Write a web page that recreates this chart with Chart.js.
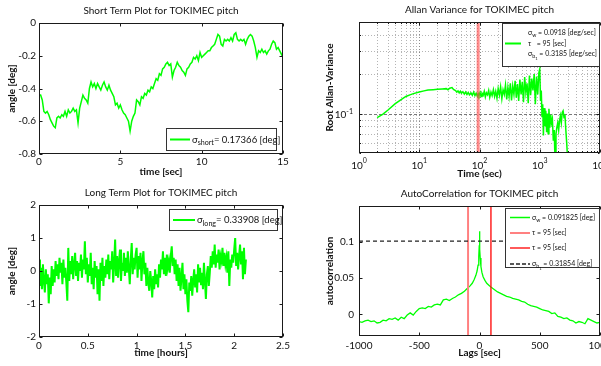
<!DOCTYPE html>
<html>
<head>
<meta charset="utf-8">
<script src="https://cdn.jsdelivr.net/npm/chart.js@4.4.1/dist/chart.umd.min.js"></script>
<style>
  html, body { margin: 0; padding: 0; background: #fff; width: 601px; height: 366px; overflow: hidden; }
  canvas { position: absolute; }
</style>
</head>
<body>
<canvas id="c1" width="300" height="180" style="left:0;top:0"></canvas>
<canvas id="c2" width="301" height="180" style="left:300px;top:0"></canvas>
<canvas id="c3" width="300" height="186" style="left:0;top:180px"></canvas>
<canvas id="c4" width="301" height="186" style="left:300px;top:180px"></canvas>
<script>
// --- short term (15 s) ---
const shortTime = [
  0.0,0.1,0.2,0.3,0.4,0.5,0.6,0.7,0.8,0.9,
  1.0,1.1,1.2,1.3,1.4,1.5,1.6,1.7,1.8,1.9,
  2.0,2.1,2.2,2.3,2.4,2.5,2.6,2.7,2.8,2.9,
  3.0,3.1,3.2,3.3,3.4,3.5,3.6,3.7,3.8,3.9,
  4.0,4.1,4.2,4.3,4.4,4.5,4.6,4.7,4.8,4.9,
  5.0,5.1,5.2,5.3,5.4,5.5,5.6,5.7,5.8,5.9,
  6.0,6.1,6.2,6.3,6.4,6.5,6.6,6.7,6.8,6.9,
  7.0,7.1,7.2,7.3,7.4,7.5,7.6,7.7,7.8,7.9,
  8.0,8.1,8.2,8.3,8.4,8.5,8.6,8.7,8.8,8.9,
  9.0,9.1,9.2,9.3,9.4,9.5,9.6,9.7,9.8,9.9,
  10.0,10.1,10.2,10.3,10.4,10.5,10.6,10.7,10.8,10.9,
  11.0,11.1,11.2,11.3,11.4,11.5,11.6,11.7,11.8,11.9,
  12.0,12.1,12.2,12.3,12.4,12.5,12.6,12.7,12.8,12.9,
  13.0,13.1,13.2,13.3,13.4,13.5,13.6,13.7,13.8,13.9,
  14.0,14.1,14.2,14.3,14.4,14.5,14.6,14.7,14.8,14.9,
  15.0
];
const shortAngle = [
  -0.44,-0.44,-0.47,-0.54,-0.55,-0.54,-0.56,-0.59,-0.61,-0.63,
  -0.64,-0.58,-0.57,-0.58,-0.56,-0.57,-0.54,-0.57,-0.53,-0.55,
  -0.54,-0.52,-0.54,-0.53,-0.61,-0.52,-0.48,-0.44,-0.46,-0.47,
  -0.49,-0.40,-0.36,-0.39,-0.37,-0.40,-0.37,-0.39,-0.41,-0.38,
  -0.36,-0.39,-0.41,-0.38,-0.41,-0.43,-0.45,-0.50,-0.49,-0.52,
  -0.50,-0.53,-0.55,-0.56,-0.58,-0.60,-0.66,-0.60,-0.57,-0.55,
  -0.47,-0.48,-0.50,-0.45,-0.46,-0.43,-0.44,-0.41,-0.42,-0.39,
  -0.40,-0.37,-0.34,-0.35,-0.31,-0.32,-0.28,-0.27,-0.25,-0.24,
  -0.26,-0.25,-0.33,-0.29,-0.27,-0.24,-0.26,-0.27,-0.29,-0.30,
  -0.32,-0.28,-0.27,-0.25,-0.24,-0.21,-0.22,-0.20,-0.23,-0.18,
  -0.21,-0.20,-0.19,-0.18,-0.17,-0.17,-0.15,-0.14,-0.13,-0.10,
  -0.07,-0.08,-0.13,-0.14,-0.10,-0.11,-0.10,-0.11,-0.09,-0.11,
  -0.07,-0.06,-0.10,-0.11,-0.10,-0.11,-0.10,-0.13,-0.10,-0.08,
  -0.07,-0.08,-0.11,-0.15,-0.21,-0.17,-0.18,-0.16,-0.18,-0.17,
  -0.19,-0.17,-0.16,-0.13,-0.11,-0.12,-0.16,-0.15,-0.17,-0.19,
  -0.21
];
const shortXTicks = [0, 5, 10, 15];
const shortXLabels = ['0', '5', '10', '15'];
const shortYTicks = [-0.8, -0.6, -0.4, -0.2, 0];
const shortYLabels = ['-0.8', '-0.6', '-0.4', '-0.2', '0'];

// --- long term (hours) ---
const longTime = [
  0.00,0.01,0.02,0.03,0.04,0.05,0.06,0.07,0.08,0.09,
  0.10,0.11,0.12,0.13,0.14,0.15,0.16,0.17,0.18,0.19,
  0.20,0.21,0.22,0.23,0.24,0.25,0.26,0.27,0.28,0.29,
  0.30,0.31,0.32,0.33,0.34,0.35,0.36,0.37,0.38,0.39,
  0.40,0.41,0.42,0.43,0.44,0.45,0.46,0.47,0.48,0.49,
  0.50,0.51,0.52,0.53,0.54,0.55,0.56,0.57,0.58,0.59,
  0.60,0.61,0.62,0.63,0.64,0.65,0.66,0.67,0.68,0.69,
  0.70,0.71,0.72,0.73,0.74,0.75,0.76,0.77,0.78,0.79,
  0.80,0.81,0.82,0.83,0.84,0.85,0.86,0.87,0.88,0.89,
  0.90,0.91,0.92,0.93,0.94,0.95,0.96,0.97,0.98,0.99,
  1.00,1.01,1.02,1.03,1.04,1.05,1.06,1.07,1.08,1.09,
  1.10,1.11,1.12,1.13,1.14,1.15,1.16,1.17,1.18,1.19,
  1.20,1.21,1.22,1.23,1.24,1.25,1.26,1.27,1.28,1.29,
  1.30,1.31,1.32,1.33,1.34,1.35,1.36,1.37,1.38,1.39,
  1.40,1.41,1.42,1.43,1.44,1.45,1.46,1.47,1.48,1.49,
  1.50,1.51,1.52,1.53,1.54,1.55,1.56,1.57,1.58,1.59,
  1.60,1.61,1.62,1.63,1.64,1.65,1.66,1.67,1.68,1.69,
  1.70,1.71,1.72,1.73,1.74,1.75,1.76,1.77,1.78,1.79,
  1.80,1.81,1.82,1.83,1.84,1.85,1.86,1.87,1.88,1.89,
  1.90,1.91,1.92,1.93,1.94,1.95,1.96,1.97,1.98,1.99,
  2.00,2.01,2.02,2.03,2.04,2.05,2.06,2.07,2.08,2.09,
  2.10,2.11,2.12
];
const longAngle = [
  0.35,-0.45,0.10,-0.55,0.20,-0.30,-0.65,0.05,-0.40,-0.10,
  -0.98,-0.20,-0.70,0.15,-0.45,0.05,-0.35,0.30,-0.15,0.20,
  -0.25,0.40,-0.05,0.25,-0.40,0.35,-0.20,0.10,-0.35,-0.90,
  0.70,-0.30,0.30,-0.10,0.45,-0.25,0.20,0.55,-0.15,0.30,
  -0.30,0.25,0.00,0.50,-0.20,0.35,0.05,0.90,-0.10,0.40,
  -0.35,0.20,-0.15,0.55,-0.40,0.10,-0.55,0.30,-0.20,0.15,
  -0.70,0.05,-0.90,0.25,-0.30,0.40,-0.45,0.15,-0.20,0.35,
  -0.10,0.50,-0.25,0.30,0.05,0.60,-0.35,0.20,0.95,-0.15,
  0.45,-0.20,0.30,0.65,-0.30,0.25,0.00,0.55,-0.15,0.40,
  -0.05,0.60,0.10,-0.40,0.35,0.85,-0.10,0.40,0.05,0.50,
  0.70,-0.20,0.45,0.05,0.55,-0.30,0.30,0.60,-0.10,0.25,
  -0.45,0.10,-0.35,-0.60,0.00,-0.30,-0.80,-0.15,-0.55,0.05,
  -0.40,-0.10,-0.50,0.20,-0.20,0.35,0.05,0.60,-0.10,0.40,
  -0.15,0.50,0.10,0.30,-0.05,0.45,0.75,0.15,0.40,-0.10,
  0.35,-0.30,0.20,-0.45,0.10,-0.60,-0.20,0.25,-0.55,-0.10,
  -0.70,-0.25,-0.90,-1.25,-0.35,-0.60,-0.15,-0.75,-0.30,0.05,
  -0.50,-0.10,-0.65,0.20,-0.35,0.10,-0.40,-0.05,-0.55,0.25,
  -0.30,-0.85,-0.10,0.15,-0.45,-0.05,0.45,0.10,0.60,0.20,
  0.80,0.10,0.50,0.25,0.65,0.05,0.45,0.30,0.70,0.15,
  0.55,0.20,0.40,-0.05,0.60,-0.45,0.35,0.10,0.50,0.25,
  0.65,1.00,0.15,0.55,0.05,0.45,0.80,0.20,0.60,-0.25,
  0.70,-0.10,0.35
];
const longXTicks = [0, 0.5, 1, 1.5, 2, 2.5];
const longXLabels = ['0', '0.5', '1', '1.5', '2', '2.5'];
const longYTicks = [-2, -1, 0, 1, 2];
const longYLabels = ['-2', '-1', '0', '1', '2'];

// --- Allan variance ---
const allanTau = [
  2,2.5,3,4,5,6,7,8,10,12,14,17,20,24,28,30,32,35,37,
  40,42,44,46,48,50,53,56,59,62,
  65,68,72,76,80,84,88,92,95,98,
  102,106,110,115,120,125,130,136,142,148,
  155,162,170,178,186,195,204,214,224,235,
  246,258,270,283,296,310,325,340,356,373,
  390,408,427,447,468,490,513,537,562,588,
  615,644,674,705,738,772,808,845,884,925,
  968,1000,1030,1060,1090,1120,1150,1180,1220,1260,
  1300,1340,1380,1420,1470,1520,1570,1620,1680,1740,
  1800,1860,1920,1990,2060,2130,2200,2280,2360,2440,
  2530,2620,2710,2800,2900,3000
];
const allanSigma = [
  0.093,0.099,0.106,0.119,0.128,0.135,0.139,0.142,0.146,0.149,0.151,0.152,0.153,0.154,0.155,0.152,0.156,0.158,0.153,
  0.150,0.146,0.149,0.144,0.148,0.143,0.147,0.141,0.146,0.140,
  0.145,0.139,0.144,0.138,0.146,0.137,0.143,0.136,0.142,0.137,
  0.145,0.135,0.143,0.138,0.148,0.134,0.144,0.139,0.150,0.133,
  0.146,0.137,0.152,0.135,0.148,0.131,0.155,0.138,0.160,0.130,
  0.152,0.140,0.165,0.128,0.158,0.135,0.170,0.126,0.162,0.140,
  0.178,0.132,0.168,0.125,0.182,0.140,0.175,0.122,0.190,0.145,
  0.170,0.120,0.195,0.138,0.185,0.150,0.200,0.118,0.192,0.140,
  0.205,0.218,0.125,0.150,0.095,0.118,0.068,0.110,0.080,0.105,
  0.072,0.100,0.070,0.109,0.078,0.098,0.085,0.091,0.062,0.075,
  0.040,0.070,0.078,0.085,0.075,0.088,0.096,0.085,0.102,0.105,
  0.093,0.098,0.075,0.060,0.045,0.040
];
const allanTauLineX = [95, 95];
const allanTauLineY = [0.05, 0.5];
const allanXTicks = [1,2,3,4,5,6,7,8,9,10,20,30,40,50,60,70,80,90,100,200,300,400,500,600,700,800,900,1000,2000,3000,4000,5000,6000,7000,8000,9000,10000];
const allanXMajor = [1, 10, 100, 1000, 10000];
const allanXExp = ['0', '1', '2', '3', '4'];
const allanYTicks = [0.05,0.06,0.07,0.08,0.09,0.1,0.2,0.3,0.4,0.5];
const allanYMajor = [0.1];
const allanYExp = ['-1'];

// --- autocorrelation ---
const acorrLag = [
  -1000,-975,-950,-925,-900,-875,-850,-825,-800,-775,
  -750,-725,-700,-675,-650,-625,-600,-575,-550,-525,
  -500,-475,-450,-425,-400,-375,-350,-325,-300,-275,
  -250,-225,-200,-175,-150,-125,-100,-80,-60,-45,
  -30,-20,-12,-6,-3,0,3,6,12,20,
  30,45,60,80,100,125,150,175,200,225,
  250,275,300,325,350,375,400,425,450,475,
  500,525,550,575,600,625,650,675,700,725,
  750,775,800,825,850,875,900,925,950,975,
  1000
];
const acorrValue = [
  -0.010,-0.011,-0.009,-0.008,-0.010,-0.009,-0.012,-0.011,-0.008,-0.009,
  -0.006,-0.007,-0.005,-0.008,-0.004,-0.006,-0.001,0.002,-0.001,0.004,
  0.008,0.009,0.008,0.011,0.010,0.013,0.014,0.013,0.020,0.021,
  0.019,0.022,0.024,0.027,0.029,0.032,0.036,0.039,0.043,0.048,
  0.054,0.060,0.068,0.080,0.092,0.115,0.090,0.078,0.066,0.058,
  0.052,0.047,0.043,0.040,0.037,0.034,0.031,0.029,0.027,0.025,
  0.024,0.022,0.021,0.020,0.018,0.017,0.014,0.012,0.011,0.010,
  0.008,0.006,0.005,0.004,0.001,0.002,-0.003,-0.004,-0.006,-0.005,
  -0.008,-0.009,-0.012,-0.010,-0.011,-0.013,-0.006,-0.008,-0.010,-0.012,
  -0.011
];
const acorrTauLeftX = [-95, -95];
const acorrTauRightX = [95, 95];
const acorrTauY = [-0.03, 0.15];
const acorrBiasX = [-1000, 1000];
const acorrBiasY = [0.1015, 0.1015];
const acorrXTicks = [-1000, -500, 0, 500, 1000];
const acorrXLabels = ['-1000', '-500', '0', '500', '1000'];
const acorrYTicks = [0, 0.05, 0.1];
const acorrYLabels = ['0', '0.05', '0.1'];

const GREEN = '#00ff00';
const FONT = 'Lato, "DejaVu Sans", sans-serif';
Chart.defaults.font.family = FONT;
Chart.defaults.font.size = 10;
Chart.defaults.color = '#111';

const pts = (xs, ys) => xs.map((v, i) => ({ x: v, y: ys[i] }));

// text with sub / sub-sub scripts: parts = [[text, level], ...]
function drawRich(ctx, parts, x, y, size) {
  let cx = x;
  parts.forEach(([t, lvl]) => {
    const s = lvl === 0 ? size : lvl === 1 ? size * 0.75 : size * 0.6;
    const dy = lvl === 0 ? 0 : lvl === 1 ? size * 0.35 : size * 0.65;
    ctx.font = s + 'px ' + FONT;
    ctx.fillText(t, cx, y + dy);
    cx += ctx.measureText(t).width;
  });
}

// per-canvas extras: title, legend, log grid
const looks = {
  c1: {
    title: 'Short Term Plot for TOKIMEC pitch',
    legend: { box: [166, 128, 111, 23], size: 9.5, rows: [
      { y: 139.5, line: [170, 190, GREEN, 2, []], x: 192, parts: [['σ', 0], ['short', 1], ['= 0.17366 [deg]', 0]] }
    ] }
  },
  c2: {
    title: 'Allan Variance for TOKIMEC pitch',
    grid: true, xMajor: allanXMajor, yMajor: allanYMajor,
    xExp: allanXExp, yExp: allanYExp,
    legend: { box: [202, 23, 98, 44], size: 7, rows: [
      { y: 33, x: 228, parts: [['σ', 0], ['w', 1], [' = 0.0918 [deg/sec]', 0]] },
      { y: 43.5, line: [205, 221, GREEN, 2, []], x: 228, parts: [['τ', 0], ['   = 95 [sec]', 0]] },
      { y: 54, x: 228, parts: [['σ', 0], ['b', 1], ['1', 2], [' = 0.3185 [deg/sec]', 0]] }
    ] }
  },
  c3: {
    title: 'Long Term Plot for TOKIMEC pitch',
    legend: { box: [169, 29, 109, 22], size: 9.5, rows: [
      { y: 40, line: [173, 195, GREEN, 2, []], x: 197, parts: [['σ', 0], ['long', 1], ['= 0.33908 [deg]', 0]] }
    ] }
  },
  c4: {
    title: 'AutoCorrelation for TOKIMEC pitch',
    legend: { box: [205, 28, 95, 60], size: 7, rows: [
      { y: 37.5, line: [210, 230, GREEN, 1.5, []], x: 232, parts: [['σ', 0], ['w', 1], [' = 0.091825 [deg]', 0]] },
      { y: 53, line: [210, 230, '#ff8080', 2, []], x: 232, parts: [['τ', 0], [' = 95 [sec]', 0]] },
      { y: 68, line: [210, 230, '#ff0000', 1.3, []], x: 232, parts: [['τ', 0], [' = 95 [sec]', 0]] },
      { y: 84, line: [210, 230, '#222', 1.3, [4, 2]], x: 232, parts: [['σ', 0], ['b', 1], ['1', 2], [' = 0.31854 [deg]', 0]] }
    ] }
  }
};

const matlabLook = {
  id: 'matlabLook',
  beforeDatasetsDraw(chart) {
    const o = looks[chart.canvas.id];
    if (!o || !o.grid) return;
    const { ctx, chartArea: a, scales: { x, y } } = chart;
    ctx.save();
    ctx.lineWidth = 1;
    x.ticks.forEach(t => {
      if (t.value <= x.min || t.value >= x.max) return;
      const px = Math.round(x.getPixelForValue(t.value)) + 0.5;
      ctx.strokeStyle = o.xMajor.includes(t.value) ? '#8a8a8a' : '#b4b4b4';
      ctx.setLineDash([1, 2]);
      ctx.beginPath(); ctx.moveTo(px, a.top); ctx.lineTo(px, a.bottom); ctx.stroke();
    });
    y.ticks.forEach(t => {
      if (t.value <= y.min || t.value >= y.max) return;
      const py = Math.round(y.getPixelForValue(t.value)) + 0.5;
      const major = o.yMajor.includes(t.value);
      ctx.strokeStyle = major ? '#777' : '#b4b4b4';
      ctx.setLineDash(major ? [3, 2] : [1, 2]);
      ctx.beginPath(); ctx.moveTo(a.left, py); ctx.lineTo(a.right, py); ctx.stroke();
    });
    ctx.restore();
  },
  afterDatasetsDraw(chart) {
    const o = looks[chart.canvas.id];
    const { ctx, chartArea: a, scales: { x, y } } = chart;
    const L = Math.round(a.left) + 0.5, R = Math.round(a.right) - 0.5;
    const T = Math.round(a.top) + 0.5, B = Math.round(a.bottom) - 0.5;
    ctx.save();
    ctx.setLineDash([]);
    ctx.strokeStyle = '#1a1a1a';
    ctx.lineWidth = 1;
    ctx.strokeRect(L, T, R - L, B - T);
    ctx.beginPath();
    x.ticks.forEach(t => {
      const len = o.xMajor && !o.xMajor.includes(t.value) ? 1.5 : 3;
      const px = Math.round(x.getPixelForValue(t.value)) + 0.5;
      ctx.moveTo(px, B); ctx.lineTo(px, B - len);
      ctx.moveTo(px, T); ctx.lineTo(px, T + len);
    });
    y.ticks.forEach(t => {
      const len = o.yMajor && !o.yMajor.includes(t.value) ? 1.5 : 3;
      const py = Math.round(y.getPixelForValue(t.value)) + 0.5;
      ctx.moveTo(L, py); ctx.lineTo(L + len, py);
      ctx.moveTo(R, py); ctx.lineTo(R - len, py);
    });
    ctx.stroke();

    ctx.fillStyle = '#111';
    ctx.textAlign = 'left';
    ctx.textBaseline = 'alphabetic';
    // log tick labels 10^n
    if (o.xExp) {
      o.xMajor.forEach((v, i) => {
        const px = x.getPixelForValue(v);
        ctx.font = '10px ' + FONT; const w1 = ctx.measureText('10').width;
        ctx.font = '7px ' + FONT; const w2 = ctx.measureText(o.xExp[i]).width;
        const sx = px - (w1 + w2) / 2;
        ctx.font = '10px ' + FONT; ctx.fillText('10', sx, B + 16);
        ctx.font = '7px ' + FONT; ctx.fillText(o.xExp[i], sx + w1, B + 10);
      });
    }
    if (o.yExp) {
      o.yMajor.forEach((v, i) => {
        const py = y.getPixelForValue(v);
        ctx.font = '7px ' + FONT; const w2 = ctx.measureText(o.yExp[i]).width;
        ctx.font = '10px ' + FONT; const w1 = ctx.measureText('10').width;
        const sx = a.left - 6 - w1 - w2;
        ctx.fillText('10', sx, py + 4.5);
        ctx.font = '7px ' + FONT; ctx.fillText(o.yExp[i], sx + w1, py + 0.5);
      });
    }
    // title
    ctx.font = '10px ' + FONT;
    ctx.textAlign = 'center';
    ctx.textBaseline = 'middle';
    ctx.fillText(o.title, (a.left + a.right) / 2, a.top - 12.5);
    // legend
    const lg = o.legend;
    if (lg) {
      const [bx, by, bw, bh] = lg.box;
      ctx.fillStyle = '#fff';
      ctx.fillRect(bx, by, bw, bh);
      ctx.strokeStyle = '#333';
      ctx.lineWidth = 1;
      ctx.strokeRect(bx + 0.5, by + 0.5, bw - 1, bh - 1);
      ctx.textAlign = 'left';
      ctx.textBaseline = 'middle';
      lg.rows.forEach(r => {
        if (r.line) {
          const [x1, x2, col, w, dash] = r.line;
          ctx.strokeStyle = col; ctx.lineWidth = w; ctx.setLineDash(dash);
          ctx.beginPath(); ctx.moveTo(x1, r.y); ctx.lineTo(x2, r.y); ctx.stroke();
          ctx.setLineDash([]);
        }
        ctx.fillStyle = '#111';
        drawRich(ctx, r.parts, r.x, r.y, lg.size);
      });
    }
    ctx.restore();
  }
};
Chart.register(matlabLook);

function linAxis(min, max, ticks, labels, title, size, pad, titlePad, horizontal) {
  return {
    type: 'linear', min, max,
    afterBuildTicks: s => { s.ticks = ticks.map(v => ({ value: v })); },
    afterFit: s => {
      if (horizontal) { s.height = size; s.paddingLeft = 0; s.paddingRight = 0; }
      else { s.width = size; s.paddingTop = 0; s.paddingBottom = 0; }
    },
    ticks: { autoSkip: false, maxRotation: 0, padding: pad, font: { size: 10 }, callback: (v, i) => labels[i] },
    grid: { display: false, drawTicks: false, tickLength: 0 },
    border: { display: false },
    title: { display: true, text: title, font: { size: 10, weight: 'bold' }, padding: titlePad }
  };
}

function logAxis(min, max, ticks, title, size, titlePad, horizontal) {
  return {
    type: 'logarithmic', min, max,
    afterBuildTicks: s => { s.ticks = ticks.map(v => ({ value: v })); },
    afterFit: s => {
      if (horizontal) { s.height = size; s.paddingLeft = 0; s.paddingRight = 0; }
      else { s.width = size; s.paddingTop = 0; s.paddingBottom = 0; }
    },
    ticks: { display: false, autoSkip: false },
    grid: { display: false, drawTicks: false, tickLength: 0 },
    border: { display: false },
    title: { display: true, text: title, font: { size: 10, weight: 'bold' }, padding: titlePad }
  };
}

function makeChart(id, padding, datasets, scales) {
  return new Chart(document.getElementById(id), {
    type: 'line',
    data: { datasets },
    options: {
      responsive: false, animation: false, devicePixelRatio: 1, events: [],
      layout: { padding },
      elements: { point: { radius: 0 }, line: { tension: 0 } },
      plugins: { legend: { display: false }, tooltip: { enabled: false } },
      scales
    }
  });
}

makeChart('c1', { top: 23, right: 17, left: 0, bottom: 0 },
  [{ data: pts(shortTime, shortAngle), borderColor: GREEN, borderWidth: 1.5 }],
  {
    x: linAxis(0, 15, shortXTicks, shortXLabels, 'time [sec]', 26, 2, { top: 0, bottom: 2 }, true),
    y: linAxis(-0.8, 0, shortYTicks, shortYLabels, 'angle [deg]', 39, 3, { top: 6, bottom: 0 }, false)
  });

makeChart('c2', { top: 22, right: 1, left: 0, bottom: 0 },
  [
    { data: pts(allanTauLineX, allanTauLineY), borderColor: 'rgba(255,70,70,0.62)', borderWidth: 3, order: 0 },
    { data: pts(allanTau, allanSigma), borderColor: GREEN, borderWidth: 1.5, order: 1 }
  ],
  {
    x: logAxis(1, 10000, allanXTicks, 'Time (sec)', 27, { top: 0, bottom: 0 }, true),
    y: logAxis(0.05, 0.5, allanYTicks, 'Root Allan-Variance', 59, { top: 24, bottom: 0 }, false)
  });

makeChart('c3', { top: 25, right: 17, left: 0, bottom: 0 },
  [{ data: pts(longTime, longAngle), borderColor: GREEN, borderWidth: 2 }],
  {
    x: linAxis(0, 2.5, longXTicks, longXLabels, 'time [hours]', 29, 3, { top: 0, bottom: 7 }, true),
    y: linAxis(-2, 2, longYTicks, longYLabels, 'angle [deg]', 39, 3, { top: 6, bottom: 0 }, false)
  });

makeChart('c4', { top: 26, right: 1, left: 0, bottom: 0 },
  [
    { data: pts(acorrBiasX, acorrBiasY), borderColor: '#222', borderWidth: 1.3, borderDash: [4, 3], order: 0 },
    { data: pts(acorrTauRightX, acorrTauY), borderColor: '#ff0000', borderWidth: 1.3, order: 1 },
    { data: pts(acorrTauLeftX, acorrTauY), borderColor: '#ff8080', borderWidth: 2, order: 2 },
    { data: pts(acorrLag, acorrValue), borderColor: GREEN, borderWidth: 1.3, order: 3 }
  ],
  {
    x: linAxis(-1000, 1000, acorrXTicks, acorrXLabels, 'Lags [sec]', 30, 4, { top: 0, bottom: 7 }, true),
    y: linAxis(-0.03, 0.15, acorrYTicks, acorrYLabels, 'autocorrelation', 59, 5, { top: 24, bottom: 0 }, false)
  });
</script>
</body>
</html>
